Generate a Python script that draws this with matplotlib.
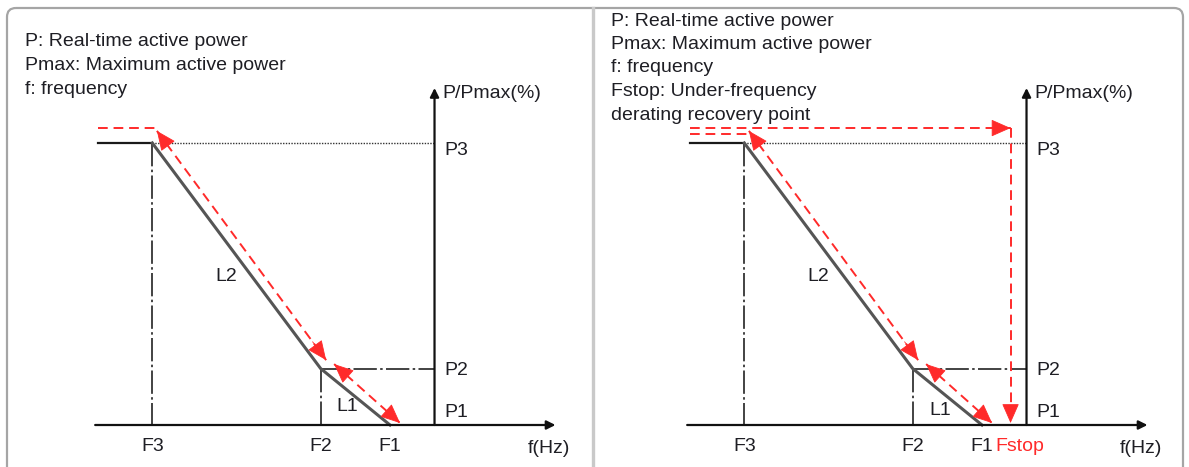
import matplotlib
matplotlib.use("Agg")
import matplotlib.pyplot as plt
from matplotlib.patches import FancyBboxPatch

plt.rcParams['font.family'] = ['Liberation Sans', 'DejaVu Sans']

# ---- diagram data (frequency units along x, P/Pmax % along y) ----
freq_labels = ['F3', 'F2', 'F1']
freq_values = [13.4, 53.5, 70.0]
F_STOP = 76.8
F_AXIS = 80.6          # position of the P/Pmax axis
F_START = 0.5          # left end of the curve
F_ARROW = 109.4        # tip of the f(Hz) axis
P_ARROW = 119.5        # tip of the P/Pmax axis

power_labels = ['P1', 'P2', 'P3']
power_values = [0.0, 20.0, 100.0]

# red dashed recovery path
red_top_level = 105.3
red_top_level_low = 103.2
red_L2_f = [14.5, 54.8]
red_L2_p = [104.3, 23.0]
red_L1_f = [56.7, 72.4]
red_L1_p = [21.6, 0.7]

legend_left = ["P: Real-time active power",
               "Pmax: Maximum active power",
               "f: frequency"]
legend_right = ["P: Real-time active power",
                "Pmax: Maximum active power",
                "f: frequency",
                "Fstop: Under-frequency",
                "derating recovery point"]

# ---- layout helpers ----
W, H = 1189, 467
SX, SY = 4.2, 2.82     # px per data unit
Y0 = 425               # px row of P = 0
RED = '#ff2a2a'
TXT = '#1e1e24'
FS = 14

fig = plt.figure(figsize=(W / 100, H / 100), dpi=100)
bg = fig.add_axes([0, 0, 1, 1])
bg.set_xlim(0, W)
bg.set_ylim(H, 0)
bg.axis('off')
bg.add_patch(FancyBboxPatch((7, 8), 1176, 480,
                            boxstyle="round,pad=0,rounding_size=9",
                            fc='none', ec='#a5a5a5', lw=1.6))
bg.plot([593, 593], [8, 470], color='#c9c9c9', lw=2.4)


def panel(x0, x1, origin):
    ax = fig.add_axes([x0 / W, 0, (x1 - x0) / W, 1])
    ax.set_xlim((x0 - origin) / SX, (x1 - origin) / SX)
    ax.set_ylim((Y0 - H) / SY, Y0 / SY)
    ax.axis('off')
    return ax


def head(ax, tip, frm, scale=25):
    ax.annotate('', xy=tip, xytext=frm,
                arrowprops=dict(arrowstyle='-|>,head_length=0.5,head_width=0.22',
                                color=RED, lw=0.6,
                                mutation_scale=scale, shrinkA=0, shrinkB=0))


def along(p, q, frac):
    return (p[0] + (q[0] - p[0]) * frac, p[1] + (q[1] - p[1]) * frac)


def draw_common(ax):
    F3, F2, F1 = freq_values
    P1, P2, P3 = power_values
    # axes with arrows
    ax.annotate('', xy=(F_ARROW, 0), xytext=(-0.2, 0),
                arrowprops=dict(arrowstyle='-|>', color='#111111', lw=1.6,
                                mutation_scale=13, shrinkA=0, shrinkB=0))
    ax.annotate('', xy=(F_AXIS, P_ARROW), xytext=(F_AXIS, 0),
                arrowprops=dict(arrowstyle='-|>', color='#111111', lw=1.6,
                                mutation_scale=13, shrinkA=0, shrinkB=0))
    # guide lines
    ax.plot([F3, F_AXIS], [P3, P3], color='#333333', lw=1.0, ls=(0, (1, 1)))
    ax.plot([F3, F3], [P3, 0], color='#222222', lw=1.2, ls=(0, (14, 2, 1.5, 2)))
    ax.plot([F2, F2], [P2, 0], color='#222222', lw=1.2, ls=(0, (14, 2, 1.5, 2)))
    ax.plot([F2, F_AXIS], [P2, P2], color='#222222', lw=1.2, ls=(0, (14, 2, 1.5, 2)))
    # curve
    ax.plot([F_START, F3], [P3, P3], color='#1a1a1a', lw=1.6)
    ax.plot([F3, F2, F1], [P3, P2, P1], color='#555555', lw=2.2,
            solid_joinstyle='miter')
    # red dashed diagonal path with heads
    dash = (0, (5, 3))
    ax.plot(red_L2_f, red_L2_p, color=RED, lw=1.4, ls=dash)
    ax.plot(red_L1_f, red_L1_p, color=RED, lw=1.4, ls=dash)
    a2 = (red_L2_f[0], red_L2_p[0]); b2 = (red_L2_f[1], red_L2_p[1])
    a1 = (red_L1_f[0], red_L1_p[0]); b1 = (red_L1_f[1], red_L1_p[1])
    head(ax, a2, along(a2, b2, 0.08))
    head(ax, b2, along(b2, a2, 0.08))
    head(ax, a1, along(a1, b1, 0.25))
    head(ax, b1, along(b1, a1, 0.25))
    # labels
    kw = dict(fontsize=FS, color=TXT)
    ax.text(82.4, 117.7, 'P/Pmax(%)', ha='left', va='center', **kw)
    for lab, pv, yy in zip(power_labels, power_values, [4.3, 19.5, 97.5]):
        ax.text(82.9, yy, lab, ha='left', va='center', **kw)
    for lab, fv in zip(freq_labels, freq_values):
        ax.text(fv, -7.8, lab, ha='center', va='center', **kw)
    ax.text(107.8, -8.2, 'f(Hz)', ha='center', va='center', **kw)
    ax.text(31.0, 52.5, 'L2', ha='center', va='center', **kw)


# ---- left panel ----
axL = panel(0, 593, 96)
draw_common(axL)
axL.plot([F_START, red_L2_f[0] - 0.3], [red_top_level, red_top_level],
         color=RED, lw=1.4, ls=(0, (5, 3)))
axL.text(59.8, 6.4, 'L1', ha='center', va='center', fontsize=FS, color=TXT)
for i, t in enumerate(legend_left):
    bg.text(25, 42 + i * 24, t, ha='left', va='center', fontsize=FS, color=TXT)

# ---- right panel ----
axR = panel(593, W, 688)
draw_common(axR)
axR.plot([F_START, F_STOP], [red_top_level, red_top_level],
         color=RED, lw=1.4, ls=(0, (5, 3)))
axR.plot([F_START, red_L2_f[0] + 0.2], [red_top_level_low, red_top_level_low],
         color=RED, lw=1.4, ls=(0, (5, 3)))
axR.plot([F_STOP, F_STOP], [red_top_level, 0.7], color=RED, lw=1.4, ls=(0, (5, 3)))
head(axR, (F_STOP, red_top_level), (F_STOP - 4, red_top_level))
head(axR, (F_STOP, 0.7), (F_STOP, 6.0))
axR.text(60.0, 5.3, 'L1', ha='center', va='center', fontsize=FS, color=TXT)
axR.text(73.3, -7.8, 'Fstop', ha='left', va='center', fontsize=FS, color=RED)
for i, t in enumerate(legend_right):
    bg.text(611, 21 + i * 23.5, t, ha='left', va='center', fontsize=FS, color=TXT)

fig.savefig('out.png', dpi=100)
